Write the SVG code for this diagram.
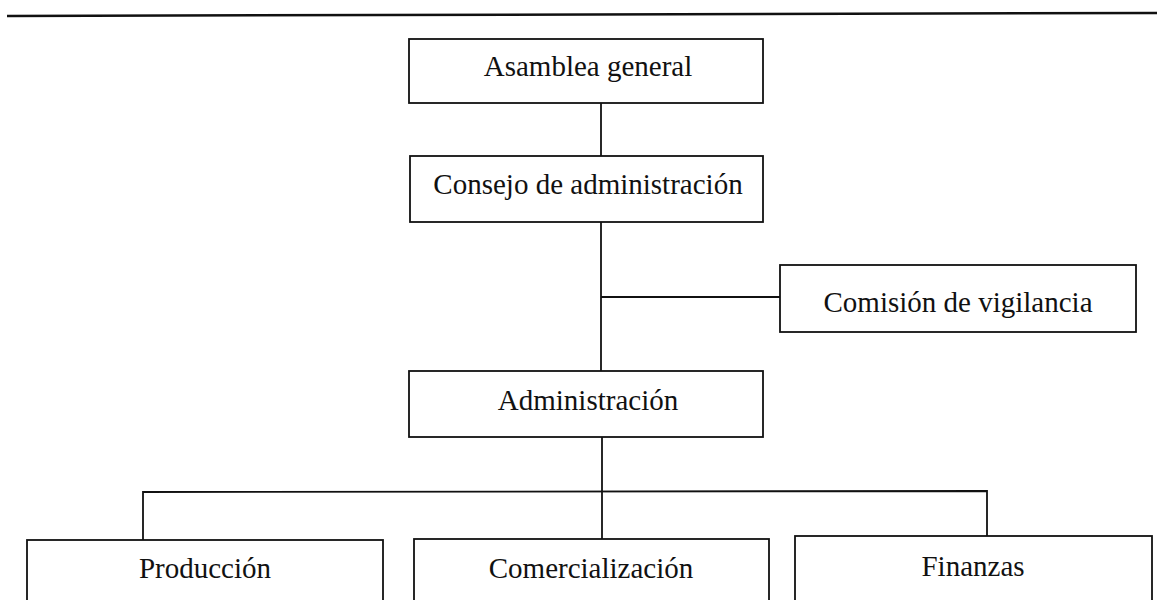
<svg xmlns="http://www.w3.org/2000/svg" width="1157" height="600" viewBox="0 0 1157 600">
<style>
.box{fill:none;stroke:#111;stroke-width:1.8}
.lbl{font-family:"Liberation Serif","Times New Roman",serif;font-size:29px;fill:#111;text-anchor:middle}
.con{fill:none;stroke:#111;stroke-width:1.8}
</style>
<rect width="1157" height="600" fill="#fff"/>
<line x1="7" y1="16" x2="1157" y2="13" stroke="#111" stroke-width="2.5"/>
<g id="connectors">
<line class="con" x1="601" y1="103" x2="601" y2="156"/>
<line class="con" x1="601" y1="222" x2="601" y2="371"/>
<line class="con" x1="601" y1="297" x2="780" y2="297"/>
<line class="con" x1="602" y1="437" x2="602" y2="539"/>
<polyline class="con" points="143,540 143,492 987,491 987,536"/>
</g>
<g id="asamblea">
<rect class="box" x="409" y="39" width="354" height="64"/>
<text class="lbl" x="588" y="76">Asamblea general</text>
</g>
<g id="consejo">
<rect class="box" x="410" y="156" width="353" height="66"/>
<text class="lbl" x="588" y="194">Consejo de administración</text>
</g>
<g id="comision">
<rect class="box" x="780" y="265" width="356" height="67"/>
<text class="lbl" x="958" y="312">Comisión de vigilancia</text>
</g>
<g id="administracion">
<rect class="box" x="409" y="371" width="354" height="66"/>
<text class="lbl" x="588" y="410">Administración</text>
</g>
<g id="produccion">
<rect class="box" x="27" y="540" width="356" height="80"/>
<text class="lbl" x="205" y="578">Producción</text>
</g>
<g id="comercializacion">
<rect class="box" x="414" y="539" width="355" height="80"/>
<text class="lbl" x="591" y="578">Comercialización</text>
</g>
<g id="finanzas">
<rect class="box" x="795" y="536" width="357" height="80"/>
<text class="lbl" x="973" y="576">Finanzas</text>
</g>
</svg>
